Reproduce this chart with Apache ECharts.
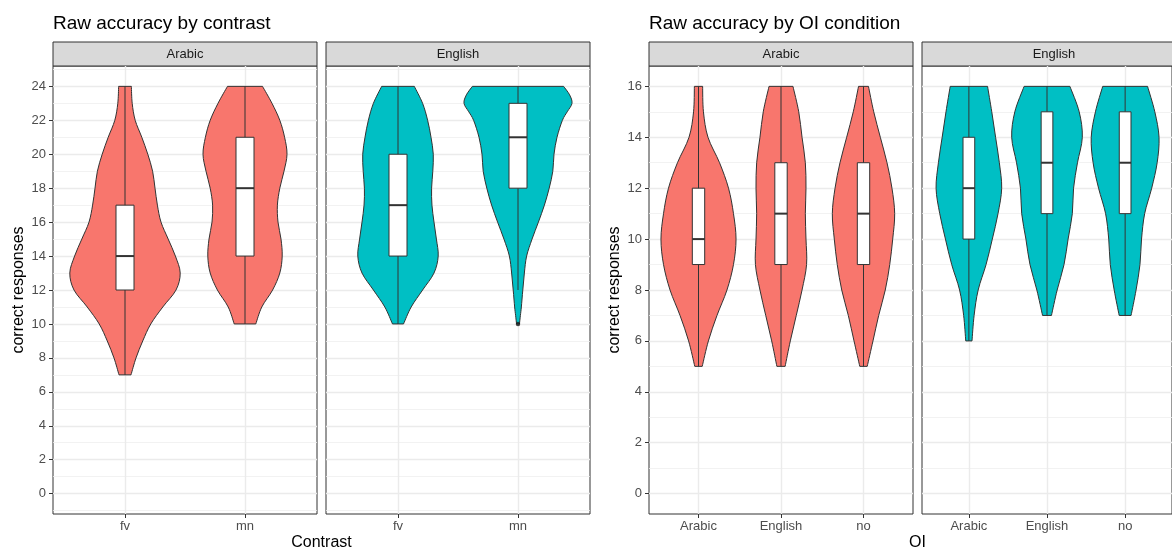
<!DOCTYPE html>
<html><head><meta charset="utf-8">
<script src="https://cdn.jsdelivr.net/npm/echarts@6/dist/echarts.min.js"></script>
<style>html,body{margin:0;padding:0;background:#fff}#c{width:1172px;height:550px}</style>
</head><body><div id="c"></div>
<script>
// ================= DATA =================
const facets = ['Arabic', 'English'];
const contrastCats = ['fv', 'mn'];
const oiCats = ['Arabic', 'English', 'no'];
const contrastTicks = [0, 2, 4, 6, 8, 10, 12, 14, 16, 18, 20, 22, 24];
const oiTicks = [0, 2, 4, 6, 8, 10, 12, 14, 16];

// Violin outlines: y values and half-widths (in x-axis category units)
// Plot 1: by contrast
const cArFvY = [7, 8, 9, 10, 11, 12, 13, 14, 15, 16, 17, 18, 19, 20, 21, 22, 23, 24];
const cArFvW = [0.05, 0.092, 0.148, 0.215, 0.315, 0.425, 0.46, 0.42, 0.36, 0.30, 0.27, 0.25, 0.23, 0.19, 0.14, 0.085, 0.06, 0.053];
const cArMnY = [10, 11, 12, 13, 14, 15, 16, 17, 18, 19, 20, 21, 22, 23, 24];
const cArMnW = [0.09, 0.14, 0.23, 0.29, 0.31, 0.30, 0.275, 0.27, 0.29, 0.325, 0.35, 0.33, 0.29, 0.225, 0.146];
const cEnFvY = [10, 11, 12, 13, 14, 15, 16, 17, 18, 19, 20, 21, 22, 23, 24];
const cEnFvW = [0.046, 0.11, 0.205, 0.30, 0.335, 0.32, 0.30, 0.283, 0.28, 0.29, 0.294, 0.275, 0.247, 0.205, 0.136];
const cEnMnY = [10, 10.5, 11, 12, 13, 14, 15, 16, 17, 18, 19, 20, 21, 22, 22.5, 23, 23.5, 24];
const cEnMnW = [0.012, 0.02, 0.028, 0.04, 0.053, 0.072, 0.117, 0.17, 0.22, 0.26, 0.29, 0.30, 0.325, 0.37, 0.41, 0.45, 0.43, 0.38];
// Plot 2: by OI condition
const oArArY = [5, 6, 7, 8, 9, 10, 11, 12, 13, 14, 15, 16];
const oArArW = [0.045, 0.12, 0.224, 0.345, 0.424, 0.455, 0.424, 0.364, 0.255, 0.115, 0.06, 0.05];
const oArEnY = [5, 6, 7, 8, 9, 10, 11, 12, 13, 14, 15, 16];
const oArEnW = [0.05, 0.113, 0.185, 0.255, 0.31, 0.303, 0.295, 0.303, 0.295, 0.255, 0.215, 0.145];
const oArNoY = [5, 6, 7, 8, 9, 10, 11, 12, 13, 14, 15, 16];
const oArNoW = [0.045, 0.115, 0.184, 0.264, 0.318, 0.354, 0.378, 0.345, 0.285, 0.204, 0.124, 0.06];
const oEnArY = [6, 7, 8, 9, 10, 11, 12, 13, 14, 15, 16];
const oEnArW = [0.04, 0.067, 0.119, 0.22, 0.30, 0.373, 0.42, 0.39, 0.342, 0.293, 0.239];
const oEnEnY = [7, 8, 9, 10, 11, 12, 13, 14, 15, 16];
const oEnEnW = [0.057, 0.13, 0.218, 0.27, 0.324, 0.34, 0.39, 0.452, 0.412, 0.293];
const oEnNoY = [7, 8, 9, 10, 11, 12, 13, 14, 15, 16];
const oEnNoW = [0.076, 0.14, 0.19, 0.21, 0.25, 0.34, 0.41, 0.434, 0.38, 0.287];

// Boxplot stats: [lower whisker, Q1, median, Q3, upper whisker]
const cArBox = [[7, 12, 14, 17, 24], [10, 14, 18, 21, 24]];
const cEnBox = [[10, 14, 17, 20, 24], [12, 18, 21, 23, 24]];
const cEnOutliers = [[2, 10]];
const oArBox = [[5, 9, 10, 12, 16], [5, 9, 11, 13, 16], [5, 9, 11, 13, 16]];
const oEnBox = [[6, 10, 12, 14, 16], [7, 11, 13, 15, 16], [7, 11, 13, 15, 16]];

// ================= LAYOUT / STYLE =================
const FONT = "'Liberation Sans', Arial, sans-serif";
const COLORS = ['#F8766D', '#00BFC4'];
const PANEL_TOP = 66, PANEL_H = 448, STRIP_H = 24;
const panels = [
  { left: 53, width: 264, cats: contrastCats, ticks: contrastTicks, facet: 0, first: true,
    violins: [[cArFvY, cArFvW], [cArMnY, cArMnW]], boxes: cArBox, outliers: [] },
  { left: 326, width: 264, cats: contrastCats, ticks: contrastTicks, facet: 1, first: false,
    violins: [[cEnFvY, cEnFvW], [cEnMnY, cEnMnW]], boxes: cEnBox, outliers: cEnOutliers },
  { left: 649, width: 264, cats: oiCats, ticks: oiTicks, facet: 0, first: true,
    violins: [[oArArY, oArArW], [oArEnY, oArEnW], [oArNoY, oArNoW]], boxes: oArBox, outliers: [] },
  { left: 922, width: 264, cats: oiCats, ticks: oiTicks, facet: 1, first: false,
    violins: [[oEnArY, oEnArW], [oEnEnY, oEnEnW], [oEnNoY, oEnNoW]], boxes: oEnBox, outliers: [] }
];

function crSegments(pts) {
  let d = '';
  for (let i = 0; i < pts.length - 1; i++) {
    const p0 = pts[i - 1] || pts[i], p1 = pts[i], p2 = pts[i + 1], p3 = pts[i + 2] || p2;
    const c1 = [p1[0] + (p2[0] - p0[0]) / 6, p1[1] + (p2[1] - p0[1]) / 6];
    const c2 = [p2[0] - (p3[0] - p1[0]) / 6, p2[1] - (p3[1] - p1[1]) / 6];
    d += ' C' + c1[0] + ' ' + c1[1] + ' ' + c2[0] + ' ' + c2[1] + ' ' + p2[0] + ' ' + p2[1];
  }
  return d;
}

function violinRender(panel, color) {
  return function (params, api) {
    const v = panel.violins[params.dataIndex];
    const x = api.value(0);
    const ys = v[0], ws = v[1];
    const right = ys.map((y, k) => api.coord([x + ws[k], y]));
    const left = ys.map((y, k) => api.coord([x - ws[k], y])).reverse();
    let d = 'M' + right[0][0] + ' ' + right[0][1] + crSegments(right);
    d += ' L' + left[0][0] + ' ' + left[0][1] + crSegments(left) + ' Z';
    return { type: 'path', shape: { pathData: d },
      style: { fill: color, stroke: '#333333', lineWidth: 1 } };
  };
}

function boxRender(panel) {
  const hw = 0.075;
  return function (params, api) {
    const x = api.value(0);
    const b = panel.boxes[params.dataIndex];
    const lo = api.coord([x, b[0]]), hi = api.coord([x, b[4]]);
    const q1l = api.coord([x - hw, b[1]]), q3r = api.coord([x + hw, b[3]]);
    const ml = api.coord([x - hw, b[2]]), mr = api.coord([x + hw, b[2]]);
    return { type: 'group', children: [
      { type: 'line', shape: { x1: lo[0], y1: lo[1], x2: hi[0], y2: hi[1] },
        style: { stroke: '#333333', lineWidth: 1 } },
      { type: 'rect', shape: { x: q1l[0], y: q3r[1], width: q3r[0] - q1l[0], height: q1l[1] - q3r[1] },
        style: { fill: '#ffffff', stroke: '#333333', lineWidth: 1 } },
      { type: 'line', shape: { x1: ml[0], y1: ml[1], x2: mr[0], y2: mr[1] },
        style: { stroke: '#333333', lineWidth: 2 } }
    ] };
  };
}

const grid = [], xAxis = [], yAxis = [], series = [], graphics = [];
panels.forEach((p, i) => {
  const n = p.cats.length;
  const tMin = p.ticks[0], tMax = p.ticks[p.ticks.length - 1];
  const exp = (tMax - tMin) * 0.05;
  const step = p.ticks[1] - p.ticks[0];
  const minorVals = [];
  for (let t = tMin - step / 2; t <= tMax + step / 2; t += step) minorVals.push(t);
  const catVals = p.cats.map((c, k) => k + 1);
  grid.push({ left: p.left, top: PANEL_TOP, width: p.width, height: PANEL_H,
    show: true, borderColor: '#333333', borderWidth: 1, backgroundColor: '#ffffff', z: 0 });
  xAxis.push({ gridIndex: i, type: 'value', min: 0.4, max: n + 0.6, position: 'bottom',
    axisLine: { show: false, onZero: false },
    axisTick: { show: true, customValues: catVals, length: 4, lineStyle: { color: '#333333' } },
    axisLabel: { customValues: catVals, formatter: (v) => p.cats[Math.round(v) - 1] || '',
      color: '#4d4d4d', fontSize: 13, fontFamily: FONT, margin: 6 },
    splitLine: { show: true, lineStyle: { color: '#ebebeb', width: 1.4 } } });
  yAxis.push({ gridIndex: i, type: 'value', min: tMin - exp, max: tMax + exp, position: 'left',
    axisLine: { show: false, onZero: false },
    axisTick: { show: p.first, customValues: p.ticks, length: 4, lineStyle: { color: '#333333' } },
    axisLabel: { show: p.first, customValues: p.ticks, color: '#4d4d4d', fontSize: 13, fontFamily: FONT, margin: 7 },
    splitLine: { show: true, lineStyle: { color: '#ebebeb', width: 1.4 } },
    name: p.first ? 'correct responses' : '', nameLocation: 'middle', nameGap: 26, nameRotate: 90,
    nameTextStyle: { color: '#000', fontSize: 16, fontFamily: FONT } });
  yAxis.push({ gridIndex: i, type: 'value', min: tMin - exp, max: tMax + exp, position: 'left',
    axisLine: { show: false, onZero: false },
    axisTick: { show: false, customValues: minorVals },
    axisLabel: { show: false },
    splitLine: { show: true, lineStyle: { color: '#efefef', width: 0.8 } } });
  const color = COLORS[p.facet];
  series.push({ type: 'custom', xAxisIndex: i, yAxisIndex: 2 * i, z: 2,
    renderItem: violinRender(p, color),
    data: p.boxes.map((b, k) => [k + 1, b[2]]) });
  series.push({ type: 'custom', xAxisIndex: i, yAxisIndex: 2 * i, z: 3,
    renderItem: boxRender(p),
    data: p.boxes.map((b, k) => [k + 1, b[2]]) });
  if (p.outliers.length) {
    series.push({ type: 'scatter', xAxisIndex: i, yAxisIndex: 2 * i, z: 4,
      symbolSize: 4.5, itemStyle: { color: '#1a1a1a' }, data: p.outliers });
  }
  graphics.push({ type: 'rect', shape: { x: p.left, y: PANEL_TOP - STRIP_H, width: p.width, height: STRIP_H },
    style: { fill: '#d9d9d9', stroke: '#333333', lineWidth: 1 } });
  graphics.push({ type: 'text', x: p.left + p.width / 2, y: PANEL_TOP - STRIP_H / 2,
    style: { text: facets[p.facet], fill: '#1a1a1a', fontSize: 13, fontFamily: FONT,
      textAlign: 'center', textVerticalAlign: 'middle' } });
});

graphics.push({ type: 'text', x: 53, y: 24, style: { text: 'Raw accuracy by contrast', fill: '#000',
  fontSize: 19, fontFamily: FONT, textAlign: 'left', textVerticalAlign: 'middle' } });
graphics.push({ type: 'text', x: 649, y: 24, style: { text: 'Raw accuracy by OI condition', fill: '#000',
  fontSize: 19, fontFamily: FONT, textAlign: 'left', textVerticalAlign: 'middle' } });
graphics.push({ type: 'text', x: 321.5, y: 543, style: { text: 'Contrast', fill: '#000',
  fontSize: 16, fontFamily: FONT, textAlign: 'center', textVerticalAlign: 'middle' } });
graphics.push({ type: 'text', x: 917.5, y: 543, style: { text: 'OI', fill: '#000',
  fontSize: 16, fontFamily: FONT, textAlign: 'center', textVerticalAlign: 'middle' } });

const chart = echarts.init(document.getElementById('c'), null, { renderer: 'canvas' });
chart.setOption({
  animation: false,
  backgroundColor: '#ffffff',
  textStyle: { fontFamily: FONT },
  grid, xAxis, yAxis, series,
  graphic: { elements: graphics }
});
</script>
</body></html>
